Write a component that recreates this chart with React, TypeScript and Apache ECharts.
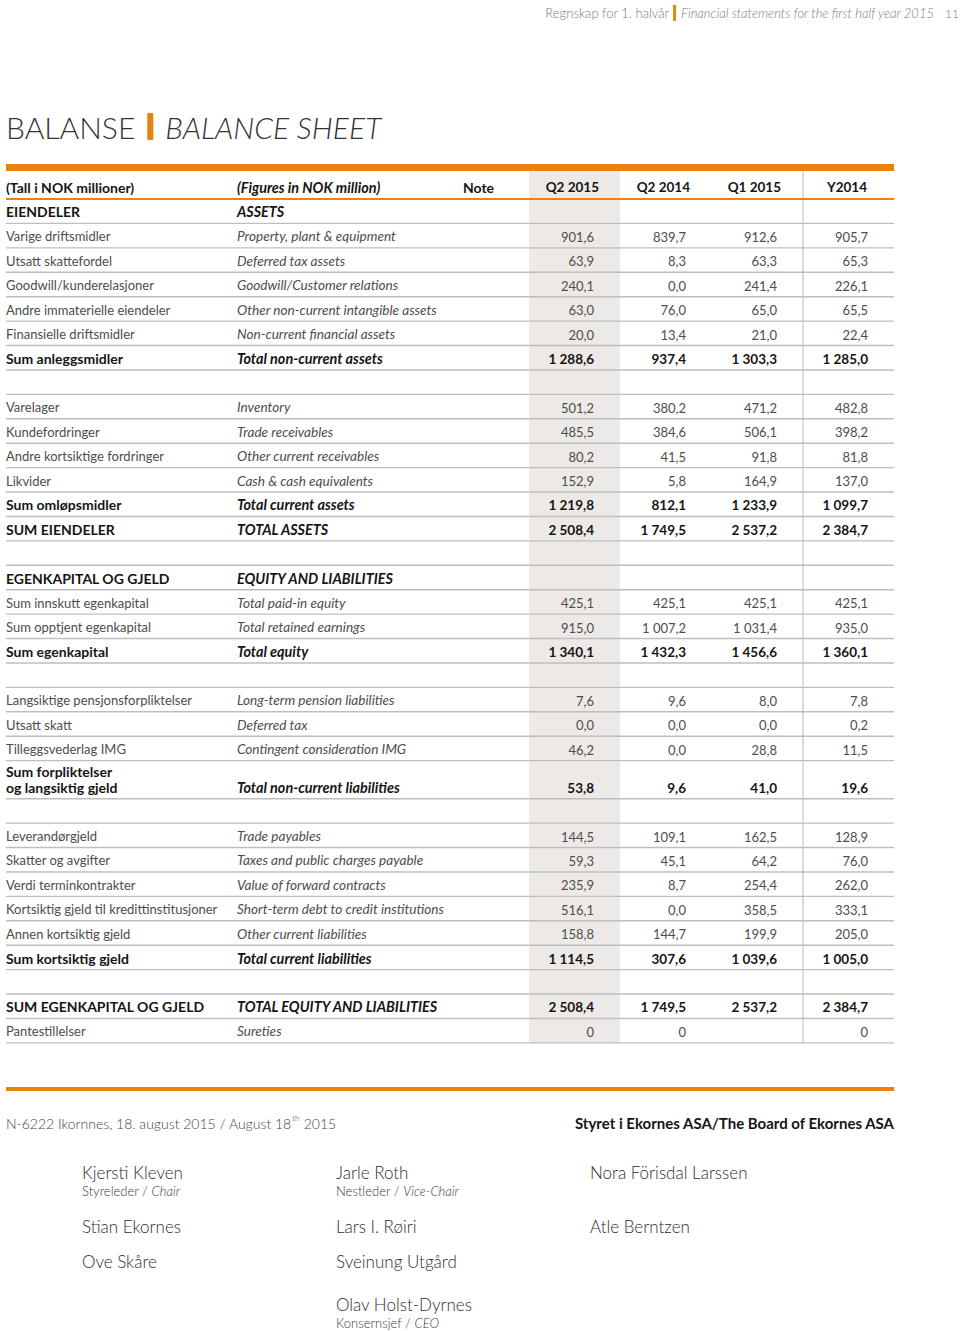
import React, { useEffect, useRef } from "react";
import * as echarts from "echarts";

// ---------------- DATA ----------------
const pageHeaderNo = "Regnskap for 1. halvår";
const pageHeaderEn = "Financial statements for the first half year 2015";
const pageNumber = "11";
const titleNo = "BALANSE";
const titleEn = "BALANCE SHEET";

const headerNo = "(Tall i NOK millioner)";
const headerEn = "(Figures in NOK million)";
const headerNote = "Note";
const periods = ["Q2 2015", "Q2 2014", "Q1 2015", "Y2014"];

const labelsNo = [
  "EIENDELER",
  "Varige driftsmidler",
  "Utsatt skattefordel",
  "Goodwill/kunderelasjoner",
  "Andre immaterielle eiendeler",
  "Finansielle driftsmidler",
  "Sum anleggsmidler",
  "",
  "Varelager",
  "Kundefordringer",
  "Andre kortsiktige fordringer",
  "Likvider",
  "Sum omløpsmidler",
  "SUM EIENDELER",
  "",
  "EGENKAPITAL OG GJELD",
  "Sum innskutt egenkapital",
  "Sum opptjent egenkapital",
  "Sum egenkapital",
  "",
  "Langsiktige pensjonsforpliktelser",
  "Utsatt skatt",
  "Tilleggsvederlag IMG",
  "Sum forpliktelser\nog langsiktig gjeld",
  "",
  "Leverandørgjeld",
  "Skatter og avgifter",
  "Verdi terminkontrakter",
  "Kortsiktig gjeld til kredittinstitusjoner",
  "Annen kortsiktig gjeld",
  "Sum kortsiktig gjeld",
  "",
  "SUM EGENKAPITAL OG GJELD",
  "Pantestillelser",
];

const labelsEn = [
  "ASSETS",
  "Property, plant & equipment",
  "Deferred tax assets",
  "Goodwill/Customer relations",
  "Other non-current intangible assets",
  "Non-current financial assets",
  "Total non-current assets",
  "",
  "Inventory",
  "Trade receivables",
  "Other current receivables",
  "Cash & cash equivalents",
  "Total current assets",
  "TOTAL ASSETS",
  "",
  "EQUITY AND LIABILITIES",
  "Total paid-in equity",
  "Total retained earnings",
  "Total equity",
  "",
  "Long-term pension liabilities",
  "Deferred tax",
  "Contingent consideration IMG",
  "Total non-current liabilities",
  "",
  "Trade payables",
  "Taxes and public charges payable",
  "Value of forward contracts",
  "Short-term debt to credit institutions",
  "Other current liabilities",
  "Total current liabilities",
  "",
  "TOTAL EQUITY AND LIABILITIES",
  "Sureties",
];

// 'section' | 'item' | 'total' | 'blank'
const rowKinds = [
  "section", "item", "item", "item", "item", "item", "total", "blank",
  "item", "item", "item", "item", "total", "total", "blank",
  "section", "item", "item", "total", "blank",
  "item", "item", "item", "total", "blank",
  "item", "item", "item", "item", "item", "total", "blank",
  "total", "item",
];

const q2_2015 = [
  null, 901.6, 63.9, 240.1, 63.0, 20.0, 1288.6, null,
  501.2, 485.5, 80.2, 152.9, 1219.8, 2508.4, null,
  null, 425.1, 915.0, 1340.1, null,
  7.6, 0.0, 46.2, 53.8, null,
  144.5, 59.3, 235.9, 516.1, 158.8, 1114.5, null,
  2508.4, 0,
];
const q2_2014 = [
  null, 839.7, 8.3, 0.0, 76.0, 13.4, 937.4, null,
  380.2, 384.6, 41.5, 5.8, 812.1, 1749.5, null,
  null, 425.1, 1007.2, 1432.3, null,
  9.6, 0.0, 0.0, 9.6, null,
  109.1, 45.1, 8.7, 0.0, 144.7, 307.6, null,
  1749.5, 0,
];
const q1_2015 = [
  null, 912.6, 63.3, 241.4, 65.0, 21.0, 1303.3, null,
  471.2, 506.1, 91.8, 164.9, 1233.9, 2537.2, null,
  null, 425.1, 1031.4, 1456.6, null,
  8.0, 0.0, 28.8, 41.0, null,
  162.5, 64.2, 254.4, 358.5, 199.9, 1039.6, null,
  2537.2, null,
];
const y2014 = [
  null, 905.7, 65.3, 226.1, 65.5, 22.4, 1285.0, null,
  482.8, 398.2, 81.8, 137.0, 1099.7, 2384.7, null,
  null, 425.1, 935.0, 1360.1, null,
  7.8, 0.2, 11.5, 19.6, null,
  128.9, 76.0, 262.0, 333.1, 205.0, 1005.0, null,
  2384.7, 0,
];
const seriesValues = [q2_2015, q2_2014, q1_2015, y2014];
// rows shown as whole numbers (no decimal)
const wholeNumberRows = [33];

const placeDate = "N-6222 Ikornnes, 18. august 2015 / August 18";
const placeDateSup = "th";
const placeDateEnd = " 2015";
const boardTitle = "Styret i Ekornes ASA/The Board of Ekornes ASA";

const signerNames = [
  "Kjersti Kleven", "Stian Ekornes", "Ove Skåre",
  "Jarle Roth", "Lars I. Røiri", "Sveinung Utgård", "Olav Holst-Dyrnes",
  "Nora Förisdal Larssen", "Atle Berntzen",
];
const signerRolesNo = ["Styreleder", "", "", "Nestleder", "", "", "Konsernsjef", "", ""];
const signerRolesEn = ["Chair", "", "", "Vice-Chair", "", "", "CEO", "", ""];

// ---------------- LAYOUT / STYLE ----------------
const signerCol = [0, 0, 0, 1, 1, 1, 1, 2, 2];
const signerLine = [0, 1, 2, 0, 1, 2, 3, 0, 1];
const signerColX = [82, 336, 590];
const signerLineY = [1172, 1226, 1261, 1304];

const FONT = "Lato, 'Open Sans', 'Noto Sans', sans-serif";
const ORANGE = "#E8830F";
const GRID_GREY = "#BEBEBE";
const BAND = "#ECE9E6";
const TEXT = "#4d4d4d";
const DARK = "#151515";

const TL = 6;
const TR = 894;
const COL_NO = 6;
const COL_EN = 237;
const NOTE_X = 463;
const VALUE_RIGHT = [594, 686, 777, 868];
const HEAD_RIGHT = [599, 690, 781, 867];
const BAND_X0 = 529;
const BAND_X1 = 620;
const VLINE_X = 803;
const TOP_BAR_Y = 164;
const HEAD_TOP = 171;
const HEAD_BOTTOM = 199;
const ROW_H = 24.42;
const EXTRA_LINE_H = 13.6;

const SIZE_REG = 13;
const SIZE_REG_IT = 13.6;
const SIZE_BOLD = 14;
const SIZE_BOLD_IT = 14.4;
const SIZE_NUM = 13;
const SIZE_NUM_BOLD = 13.5;

function fmt(v: number | null, dec: number): string {
  if (v === null || v === undefined) return "";
  const s = v.toFixed(dec);
  const parts = s.split(".");
  const ip = parts[0].replace(/\B(?=(\d{3})+(?!\d))/g, " ");
  return parts.length > 1 ? ip + "," + parts[1] : ip;
}

let _ctx: CanvasRenderingContext2D | null = null;
function measure(text: string, font: string): number {
  if (!_ctx) _ctx = document.createElement("canvas").getContext("2d");
  if (!_ctx) return text.length * 7;
  _ctx.font = font;
  return _ctx.measureText(text).width;
}

function txt(
  x: number,
  y: number,
  text: string,
  o: { size?: number; weight?: any; italic?: boolean; color?: string; align?: string; v?: string } = {}
) {
  return {
    type: "text",
    x,
    y,
    silent: true,
    style: {
      text,
      fill: o.color || TEXT,
      fontSize: o.size || SIZE_REG,
      fontFamily: FONT,
      fontWeight: o.weight || 400,
      fontStyle: o.italic ? "italic" : "normal",
      textAlign: o.align || "left",
      textVerticalAlign: o.v || "middle",
    },
  };
}

function buildGraphics() {
  const els: any[] = [];

  // row geometry
  const rowBottom: number[] = [];
  let y = HEAD_BOTTOM;
  for (let i = 0; i < labelsNo.length; i++) {
    const nLines = labelsNo[i].split("\n").length;
    y += ROW_H + (nLines - 1) * EXTRA_LINE_H;
    rowBottom.push(y);
  }
  const tableBottom = y;

  // shaded Q2 2015 column
  els.push({
    type: "rect",
    silent: true,
    shape: { x: BAND_X0, y: HEAD_TOP, width: BAND_X1 - BAND_X0, height: tableBottom - HEAD_TOP },
    style: { fill: BAND },
  });
  // vertical divider before Y2014
  els.push({
    type: "line",
    silent: true,
    shape: { x1: VLINE_X, y1: HEAD_TOP, x2: VLINE_X, y2: tableBottom },
    style: { stroke: "#CFCFCF", lineWidth: 1.5 },
  });
  // top orange bar
  els.push({
    type: "rect",
    silent: true,
    shape: { x: TL, y: TOP_BAR_Y, width: TR - TL, height: HEAD_TOP - TOP_BAR_Y },
    style: { fill: ORANGE },
  });
  // header underline
  els.push({
    type: "line",
    silent: true,
    shape: { x1: TL, y1: HEAD_BOTTOM, x2: TR, y2: HEAD_BOTTOM },
    style: { stroke: ORANGE, lineWidth: 2 },
  });
  // row lines
  for (let i = 0; i < rowBottom.length; i++) {
    els.push({
      type: "line",
      silent: true,
      shape: { x1: TL, y1: rowBottom[i], x2: TR, y2: rowBottom[i] },
      style: { stroke: GRID_GREY, lineWidth: 1.4 },
    });
  }

  // header texts
  const hy = HEAD_BOTTOM - 12;
  els.push(txt(COL_NO, hy, headerNo, { size: SIZE_BOLD, weight: 700, color: DARK }));
  els.push(txt(COL_EN, hy, headerEn, { size: SIZE_BOLD_IT, weight: 700, italic: true, color: DARK }));
  els.push(txt(NOTE_X, hy, headerNote, { size: SIZE_BOLD, weight: 700, color: DARK }));
  periods.forEach((p, k) => {
    els.push(txt(HEAD_RIGHT[k], hy, p, { size: SIZE_NUM_BOLD, weight: 700, color: DARK, align: "right" }));
  });

  // rows
  for (let i = 0; i < labelsNo.length; i++) {
    const kind = rowKinds[i];
    if (kind === "blank") continue;
    const bold = kind !== "item";
    const cy = rowBottom[i] - 11.5;
    const color = bold ? DARK : TEXT;
    const weight = bold ? 700 : 400;
    const lines = labelsNo[i].split("\n");
    lines.forEach((ln, k) => {
      els.push(
        txt(COL_NO, cy - (lines.length - 1 - k) * 16, ln, { size: bold ? SIZE_BOLD : SIZE_REG, weight, color })
      );
    });
    els.push(
      txt(COL_EN, cy, labelsEn[i], { size: bold ? SIZE_BOLD_IT : SIZE_REG_IT, weight, color, italic: true })
    );
    const dec = wholeNumberRows.indexOf(i) >= 0 ? 0 : 1;
    seriesValues.forEach((arr, k) => {
      const v = arr[i];
      if (v === null || v === undefined) return;
      els.push(
        txt(VALUE_RIGHT[k], cy + 0.5, fmt(v, dec), {
          size: bold ? SIZE_NUM_BOLD : SIZE_NUM,
          weight,
          color,
          align: "right",
        })
      );
    });
  }

  // page header (top right)
  const phSize = 13;
  const phEnFont = `italic 300 ${phSize}px ${FONT}`;
  els.push(txt(959, 13, pageNumber, { size: 12, weight: 300, color: "#777", align: "right" }));
  const enRight = 934;
  const wEn = measure(pageHeaderEn, phEnFont);
  els.push(txt(enRight, 13, pageHeaderEn, { size: phSize, weight: 300, italic: true, color: "#7a7a7a", align: "right" }));
  const barX = enRight - wEn - 7;
  els.push({
    type: "rect",
    silent: true,
    shape: { x: barX, y: 5, width: 3, height: 16 },
    style: { fill: ORANGE },
  });
  els.push(txt(barX - 4, 13, pageHeaderNo, { size: phSize, weight: 300, color: "#7a7a7a", align: "right" }));

  // title
  const tSize = 30;
  const tFont = `300 ${tSize}px ${FONT}`;
  const wT = measure(titleNo, tFont);
  els.push(txt(6, 127, titleNo, { size: tSize, weight: 300, color: "#333" }));
  const tBarX = 6 + wT + 12;
  els.push({
    type: "rect",
    silent: true,
    shape: { x: tBarX, y: 113, width: 6, height: 27 },
    style: { fill: ORANGE },
  });
  els.push(txt(tBarX + 6 + 12, 127, titleEn, { size: tSize, weight: 300, italic: true, color: "#333" }));

  // bottom orange line
  els.push({
    type: "rect",
    silent: true,
    shape: { x: TL, y: 1087, width: TR - TL, height: 4 },
    style: { fill: ORANGE },
  });

  // date line with superscript
  const dSize = 14;
  const dFont = `300 ${dSize}px ${FONT}`;
  const w1 = measure(placeDate, dFont);
  els.push(txt(6, 1123, placeDate, { size: dSize, weight: 300, color: "#444" }));
  els.push(txt(6 + w1 + 0.5, 1118, placeDateSup, { size: 8, weight: 300, color: "#444" }));
  const wSup = measure(placeDateSup, `300 8px ${FONT}`);
  els.push(txt(6 + w1 + wSup + 1, 1123, placeDateEnd, { size: dSize, weight: 300, color: "#444" }));
  els.push(txt(TR, 1123, boardTitle, { size: 15, weight: 700, color: DARK, align: "right" }));

  // signatures
  signerNames.forEach((name, i) => {
    const x = signerColX[signerCol[i]];
    const yy = signerLineY[signerLine[i]];
    els.push(txt(x, yy, name, { size: 17, weight: 300, color: "#2e2e2e" }));
    if (signerRolesNo[i]) {
      const rFont = `300 13px ${FONT}`;
      const pre = signerRolesNo[i] + " / ";
      const wr = measure(pre, rFont);
      els.push(txt(x, yy + 19, pre, { size: 13, weight: 300, color: "#3a3a3a" }));
      els.push(txt(x + wr, yy + 19, signerRolesEn[i], { size: 13, weight: 300, italic: true, color: "#3a3a3a" }));
    }
  });

  return els;
}

export default function App() {
  const ref = useRef<HTMLDivElement>(null);
  useEffect(() => {
    if (!ref.current) return;
    const chart = echarts.init(ref.current, undefined, { renderer: "svg" });
    chart.setOption({
      animation: false,
      backgroundColor: "#ffffff",
      graphic: { elements: buildGraphics() },
    });
    return () => chart.dispose();
  }, []);
  return (
    <div
      ref={ref}
      style={{ position: "absolute", left: 0, top: 0, width: 960, height: 1331, background: "#fff" }}
    />
  );
}
